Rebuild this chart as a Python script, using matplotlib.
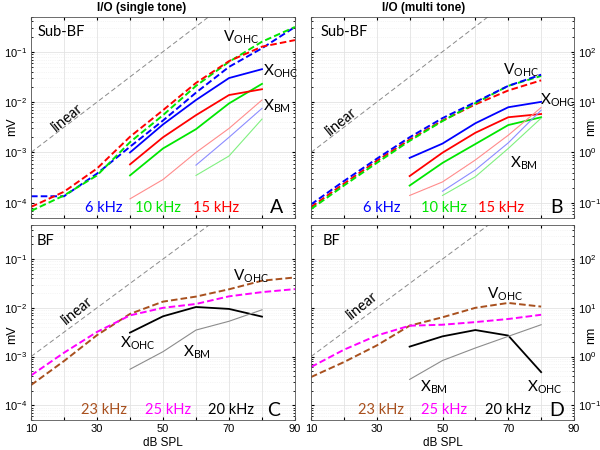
"""I/O functions, sub-BF and BF, single and multi tone (4 panels)"""

import math

import matplotlib
matplotlib.use("Agg")
import matplotlib.pyplot as plt

# ---- data ----
db_all = [10, 20, 30, 40, 50, 60, 70, 80, 90]
db_x = [40, 50, 60, 70, 80]
db_bm = [60, 70, 80]
db_bm_b = [50, 60, 70, 80]
db_b = [10, 20, 30, 40, 50, 60, 70, 80]

# linear reference line end points (slope 1 dB/dB)
lin_db = [10, 90]
lin_mv = [1e-3, 1e1]
lin_nm = [1e0, 1e4]

# panel A, single tone, sub-BF (mV)
vohc_a_6 = [1.35e-4, 1.35e-4, 3.8e-4, 1.3e-3, 4.3e-3, 1.54e-2, 5.0e-2, 1.17e-1, 3.1e-1]
vohc_a_10 = [6.9e-5, 1.4e-4, 3.5e-4, 1.6e-3, 5.5e-3, 2.1e-2, 6.3e-2, 1.58e-1, 3.1e-1]
vohc_a_15 = [8.3e-5, 1.66e-4, 4.8e-4, 2.05e-3, 6.9e-3, 2.4e-2, 6.5e-2, 1.26e-1, 1.7e-1]
xohc_a_6 = [1.0e-3, 3.6e-3, 1.1e-2, 3.0e-2, 4.5e-2]
xohc_a_10 = [3.5e-4, 1.2e-3, 2.9e-3, 9.4e-3, 2.3e-2]
xohc_a_15 = [5.8e-4, 2.0e-3, 5.5e-3, 1.38e-2, 1.8e-2]
xbm_a_6 = [5.6e-4, 2.0e-3, 7.5e-3]
xbm_a_10 = [3.5e-4, 8.5e-4, 4.6e-3]
xbm_a_15 = [1.2e-4, 2.9e-4, 1.0e-3, 3.0e-3, 1.1e-2]

# panel B, multi tone, sub-BF (nm)
vohc_b_6 = [0.093, 0.27, 0.75, 2.0, 4.8, 10.0, 21.0, 35.0]
vohc_b_10 = [0.075, 0.22, 0.62, 1.7, 4.2, 9.5, 21.0, 33.0]
vohc_b_15 = [0.082, 0.24, 0.68, 1.8, 4.3, 9.0, 17.0, 27.0]
xohc_b_6 = [0.78, 1.5, 3.8, 7.9, 10.1]
xohc_b_10 = [0.22, 0.62, 1.47, 3.5, 5.0]
xohc_b_15 = [0.34, 0.99, 2.46, 5.0, 5.8]
xbm_b_6 = [0.17, 0.45, 1.55, 6.9]
xbm_b_10 = [0.14, 0.33, 1.2, 4.8]
xbm_b_15 = [0.14, 0.26, 0.71, 2.2, 7.8]

# panel C, single tone, BF (mV)
vohc_c_23 = [2.6e-4, 8.1e-4, 2.75e-3, 7.5e-3, 1.34e-2, 1.7e-2, 2.4e-2, 3.6e-2, 4.2e-2]
vohc_c_25 = [4.1e-4, 1.2e-3, 3.2e-3, 7.0e-3, 1.0e-2, 1.2e-2, 1.72e-2, 2.1e-2, 2.42e-2]
xohc_c_20 = [3.1e-3, 6.7e-3, 1.04e-2, 9.5e-3, 6.6e-3]
xbm_c_20 = [5.5e-4, 1.26e-3, 3.5e-3, 5.3e-3, 9.1e-3]

# panel D, multi tone, BF (nm)
vohc_d_23 = [0.38, 0.77, 1.69, 4.3, 6.4, 10.0, 12.6, 10.6]
vohc_d_25 = [0.61, 1.38, 2.7, 4.3, 4.5, 5.1, 5.9, 7.2]
xohc_d_20 = [1.6, 2.6, 3.5, 2.7, 0.48]
xbm_d_20 = [0.34, 0.83, 1.5, 2.6, 4.5]

BLUE, GREEN, RED = "#0000ff", "#00e600", "#ff0000"
LBLUE, LGREEN, LRED = "#8c8cff", "#80f080", "#ff8c8c"
BROWN, MAGENTA = "#a8501e", "#ff00ff"
TXT_FONT = ["Lato", "DejaVu Sans"]

plt.rcParams.update({"font.family": ["Liberation Sans", "DejaVu Sans"],
                     "font.size": 8, "axes.linewidth": 0.6,
                     "xtick.direction": "in", "ytick.direction": "in",
                     "xtick.major.size": 2.5, "ytick.major.size": 2.5,
                     "ytick.minor.size": 1.5})

fig = plt.figure(figsize=(6, 4.5), dpi=100)
W, H = 600.0, 450.0


def make_ax(l, r, t, b):
    return fig.add_axes([l / W, 1 - b / H, (r - l) / W, (b - t) / H])


axA = make_ax(31, 295, 16.5, 218)
axB = make_ax(311, 574, 16.5, 218)
axC = make_ax(31, 295, 225, 420)
axD = make_ax(311, 574, 225, 420)


def style(ax, right, bottom, ylim):
    ax.set_yscale("log")
    ax.set_xlim(10, 90)
    ax.set_ylim(*ylim)
    ax.set_xticks(db_all)
    if bottom:
        ax.set_xticklabels([str(d) if d % 20 == 10 else "" for d in db_all])
    else:
        ax.set_xticklabels([])
    ax.tick_params(which="both", top=True, right=True, left=True,
                   labelleft=not right, labelright=right, labelsize=8, pad=3)
    lo = int(round(math.log10(ylim[0] * 2)))
    dec = [10.0 ** k for k in range(lo, lo + 4)]
    ax.set_yticks(dec)
    ax.set_yticklabels([r"$\mathregular{10^{%d}}$" % (lo + i) for i in range(4)])
    ax.grid(True, which="major", color="#e3e3e3", lw=0.6)
    ax.grid(True, which="minor", axis="y", color="#ececec", lw=0.5, ls=":")
    ax.set_axisbelow(True)
    for s in ax.spines.values():
        s.set_color("#555555")


def label(ax, x, y, main, sub, color="black", size=11):
    ax.text(x, y, main + r"$_{\mathregular{%s}}$" % sub, color=color,
            fontsize=size, family=TXT_FONT, ha="left", va="center")


def freq_labels(ax, items, letter, name):
    for xf, txt, c in items:
        ax.text(xf, 0.05, txt, transform=ax.transAxes, color=c, fontsize=10.5,
                family=TXT_FONT, ha="center", va="center")
    ax.text(letter, 0.05, name, transform=ax.transAxes, fontsize=14,
            family=TXT_FONT, ha="center", va="center")


dash = dict(ls=(0, (3.4, 1.6)), lw=1.4)

# ---- panel A ----
ax = axA
style(ax, False, False, (5e-5, 0.5))
ax.plot(lin_db, lin_mv, color="#8a8a8a", lw=0.7, ls=(0, (5, 3)))
ax.plot(db_all, vohc_a_6, color=BLUE, **dash)
ax.plot(db_all, vohc_a_10, color=GREEN, **dash)
ax.plot(db_all, vohc_a_15, color=RED, **dash)
ax.plot(db_x, xohc_a_6, color=BLUE, lw=1.3)
ax.plot(db_x, xohc_a_10, color=GREEN, lw=1.3)
ax.plot(db_x, xohc_a_15, color=RED, lw=1.3)
ax.plot(db_bm, xbm_a_6, color=LBLUE, lw=0.8)
ax.plot(db_bm, xbm_a_10, color=LGREEN, lw=0.8)
ax.plot(db_x, xbm_a_15, color=LRED, lw=0.8)
ax.text(20.9, 5e-3, "linear", rotation=39, fontsize=10.5, family=TXT_FONT,
        ha="center", va="center")
ax.text(0.023, 0.925, "Sub-BF", transform=ax.transAxes, fontsize=10.5,
        family=TXT_FONT, va="center")
label(ax, 68.2, 0.195, "V", "OHC")
label(ax, 80.3, 0.042, "X", "OHC")
label(ax, 80.3, 0.0082, "X", "BM")
freq_labels(ax, [(0.277, "6 kHz", BLUE), (0.481, "10 kHz", GREEN),
                 (0.70, "15 kHz", RED)], 0.93, "A")
ax.set_title("I/O (single tone)", fontsize=8.5, fontweight="bold", x=0.42, pad=4)

# ---- panel B ----
ax = axB
style(ax, True, False, (0.05, 500))
ax.plot(lin_db, lin_nm, color="#8a8a8a", lw=0.7, ls=(0, (5, 3)))
ax.plot(db_b, vohc_b_15, color=RED, **dash)
ax.plot(db_b, vohc_b_10, color=GREEN, **dash)
ax.plot(db_b, vohc_b_6, color=BLUE, **dash)
ax.plot(db_x, xohc_b_6, color=BLUE, lw=1.3)
ax.plot(db_x, xohc_b_10, color=GREEN, lw=1.3)
ax.plot(db_x, xohc_b_15, color=RED, lw=1.3)
ax.plot(db_bm_b, xbm_b_6, color=LBLUE, lw=0.8)
ax.plot(db_bm_b, xbm_b_10, color=LGREEN, lw=0.8)
ax.plot(db_x, xbm_b_15, color=LRED, lw=0.8)
ax.text(19.1, 4.0, "linear", rotation=39, fontsize=10.5, family=TXT_FONT,
        ha="center", va="center")
ax.text(0.038, 0.925, "Sub-BF", transform=ax.transAxes, fontsize=10.5,
        family=TXT_FONT, va="center")
label(ax, 68.4, 43, "V", "OHC")
label(ax, 79.6, 11, "X", "OHC")
label(ax, 70.5, 0.6, "X", "BM")
freq_labels(ax, [(0.27, "6 kHz", BLUE), (0.506, "10 kHz", GREEN),
                 (0.722, "15 kHz", RED)], 0.935, "B")
ax.set_title("I/O (multi tone)", fontsize=8.5, fontweight="bold", x=0.43, pad=4)

# ---- panel C ----
ax = axC
style(ax, False, True, (5e-5, 0.5))
ax.plot(lin_db, lin_mv, color="#8a8a8a", lw=0.7, ls=(0, (5, 3)))
ax.plot(db_all, vohc_c_23, color=BROWN, **dash)
ax.plot(db_all, vohc_c_25, color=MAGENTA, **dash)
ax.plot(db_x, xohc_c_20, color="black", lw=1.3)
ax.plot(db_x, xbm_c_20, color="#8c8c8c", lw=0.8)
ax.text(24, 8.9e-3, "linear", rotation=39, fontsize=10.5, family=TXT_FONT,
        ha="center", va="center")
ax.text(0.023, 0.92, "BF", transform=ax.transAxes, fontsize=10.5,
        family=TXT_FONT, va="center")
label(ax, 71.2, 0.045, "V", "OHC")
label(ax, 37, 1.9e-3, "X", "OHC")
label(ax, 56, 1.25e-3, "X", "BM")
freq_labels(ax, [(0.277, "23 kHz", BROWN), (0.52, "25 kHz", MAGENTA),
                 (0.757, "20 kHz", "black")], 0.917, "C")
ax.set_xlabel("dB SPL", fontsize=8.5, labelpad=2)

# ---- panel D ----
ax = axD
style(ax, True, True, (0.05, 500))
ax.plot(lin_db, lin_nm, color="#8a8a8a", lw=0.7, ls=(0, (5, 3)))
ax.plot(db_b, vohc_d_23, color=BROWN, **dash)
ax.plot(db_b, vohc_d_25, color=MAGENTA, **dash)
ax.plot(db_x, xohc_d_20, color="black", lw=1.3)
ax.plot(db_x, xbm_d_20, color="#8c8c8c", lw=0.8)
ax.text(25.5, 11, "linear", rotation=39, fontsize=10.5, family=TXT_FONT,
        ha="center", va="center")
ax.text(0.046, 0.92, "BF", transform=ax.transAxes, fontsize=10.5,
        family=TXT_FONT, va="center")
label(ax, 63.5, 19, "V", "OHC")
label(ax, 43.1, 0.24, "X", "BM")
label(ax, 75.7, 0.24, "X", "OHC")
freq_labels(ax, [(0.266, "23 kHz", BROWN), (0.506, "25 kHz", MAGENTA),
                 (0.749, "20 kHz", "black")], 0.935, "D")
ax.set_xlabel("dB SPL", fontsize=8.5, labelpad=2)

# unit labels sit in the tick-label column, like the original
for ypx in (127, 335):
    fig.text(12 / W, 1 - ypx / H, "mV", rotation=90, fontsize=9,
             ha="center", va="center")
    fig.text(591 / W, 1 - ypx / H, "nm", rotation=90, fontsize=9,
             ha="center", va="center")

fig.savefig("out.png", dpi=100)
